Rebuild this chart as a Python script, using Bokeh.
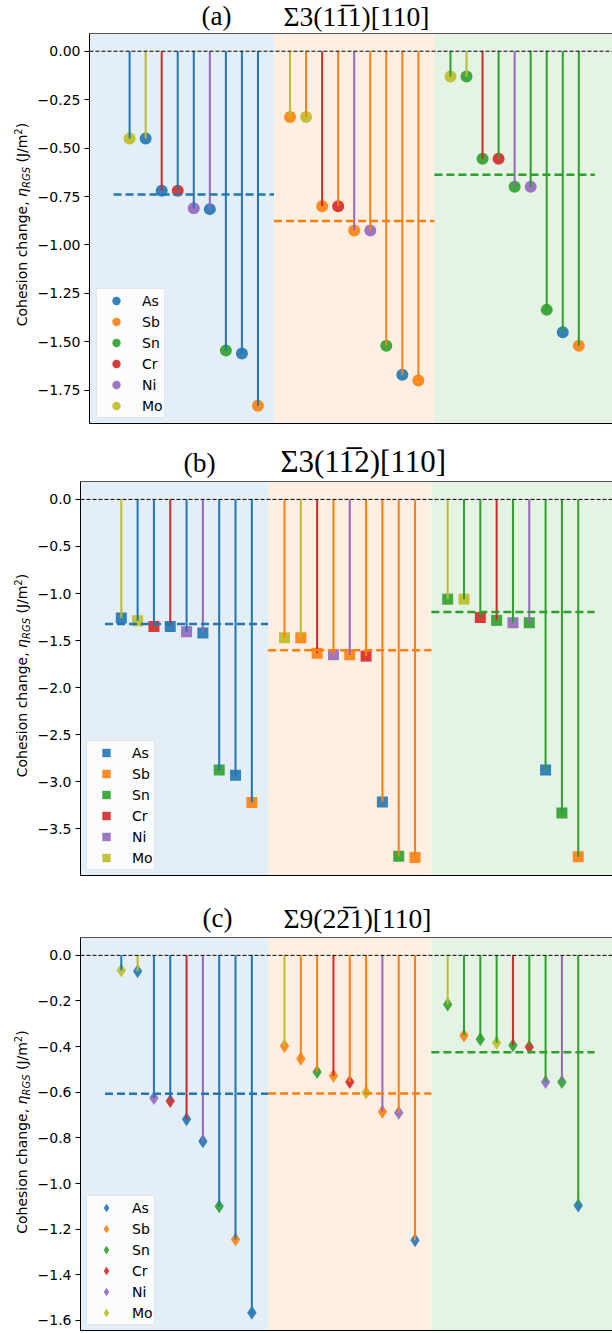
import math
from bokeh.plotting import figure
from bokeh.layouts import column, row
from bokeh.models import (ColumnDataSource, Range1d, FixedTicker, Label,
                          BoxAnnotation, Legend, LegendItem, LinearAxis, Span)
from bokeh.embed import file_html
from bokeh.resources import INLINE

# ---------------- data ----------------
ELEMENTS = ["As", "Sb", "Sn", "Cr", "Ni", "Mo"]
COLORS = {"As": "#1f77b4", "Sb": "#ff7f0e", "Sn": "#2ca02c",
          "Cr": "#d62728", "Ni": "#9467bd", "Mo": "#bcbd22"}
HOSTS = ["As", "Sb", "Sn"]

# Panel (a)  Sigma3(1-11)[110]
A_LINE = ["As", "Mo", "Cr", "As", "As", "Ni", "As", "As", "As",
          "Mo", "Sb", "Cr", "Sb", "Ni", "Sb", "Sb", "Sb", "Sb",
          "Sn", "Mo", "Cr", "Sn", "Ni", "Sn", "Sn", "Sn", "Sn"]
A_MARK = ["Mo", "As", "As", "Cr", "Ni", "As", "Sn", "As", "Sb",
          "Sb", "Mo", "Sb", "Cr", "Sb", "Ni", "Sn", "As", "Sb",
          "Mo", "Sn", "Sn", "Cr", "Sn", "Ni", "Sn", "As", "Sb"]
A_VAL = [-0.45, -0.45, -0.72, -0.72, -0.81, -0.815, -1.545, -1.56, -1.83,
         -0.34, -0.34, -0.80, -0.80, -0.925, -0.925, -1.52, -1.67, -1.70,
         -0.13, -0.13, -0.555, -0.555, -0.70, -0.70, -1.335, -1.45, -1.52]
A_MEAN = [-0.74, -0.876, -0.637]
A_TICKS = [0.0, -0.25, -0.5, -0.75, -1.0, -1.25, -1.5, -1.75]
A_TICK_LABELS = ["0.00", "\u22120.25", "\u22120.50", "\u22120.75", "\u22121.00",
                 "\u22121.25", "\u22121.50", "\u22121.75"]

# Panel (b)  Sigma3(1-12)[110]
B_LINE = ["Mo", "As", "As", "Cr", "As", "Ni", "As", "As", "As",
          "Sb", "Mo", "Cr", "Sb", "Ni", "Sb", "Sb", "Sb", "Sb",
          "Mo", "Sn", "Sn", "Cr", "Sn", "Ni", "Sn", "Sn", "Sn"]
B_MARK = ["As", "Mo", "Cr", "As", "Ni", "As", "Sn", "As", "Sb",
          "Mo", "Sb", "Sb", "Ni", "Sb", "Cr", "As", "Sn", "Sb",
          "Sn", "Mo", "Cr", "Sn", "Ni", "Sn", "As", "Sn", "Sb"]
B_VAL = [-1.26, -1.29, -1.35, -1.35, -1.405, -1.42, -2.875, -2.93, -3.22,
         -1.47, -1.47, -1.635, -1.65, -1.65, -1.665, -3.215, -3.79, -3.805,
         -1.06, -1.06, -1.255, -1.285, -1.31, -1.31, -2.875, -3.33, -3.795]
B_MEAN = [-1.323, -1.602, -1.196]
B_TICKS = [0.0, -0.5, -1.0, -1.5, -2.0, -2.5, -3.0, -3.5, -4.0]
B_TICK_LABELS = ["0.0", "\u22120.5", "\u22121.0", "\u22121.5", "\u22122.0",
                 "\u22122.5", "\u22123.0", "\u22123.5", "\u22124.0"]

# Panel (c)  Sigma9(2-21)[110]
C_LINE = ["As", "Mo", "As", "As", "Cr", "Ni", "As", "As", "As",
          "Mo", "Sb", "Sb", "Cr", "Sb", "Sb", "Ni", "Sb", "Sb",
          "Mo", "Sn", "Sn", "Sn", "Cr", "Sn", "Sn", "Ni", "Sn"]
C_MARK = ["Mo", "As", "Ni", "Cr", "As", "As", "Sn", "Sb", "As",
          "Sb", "Sb", "Sn", "Sb", "Cr", "Mo", "Sb", "Ni", "As",
          "Sn", "Sb", "Sn", "Mo", "Sn", "Cr", "Ni", "Sn", "As"]
C_VAL = [-0.065, -0.07, -0.625, -0.638, -0.718, -0.815, -1.10, -1.245, -1.566,
         -0.397, -0.453, -0.511, -0.528, -0.555, -0.601, -0.686, -0.690, -1.249,
         -0.215, -0.351, -0.368, -0.383, -0.394, -0.402, -0.555, -0.555, -1.096]
C_MEAN = [-0.607, -0.605, -0.425]
C_TICKS = [0.0, -0.2, -0.4, -0.6, -0.8, -1.0, -1.2, -1.4, -1.6]
C_TICK_LABELS = ["0.0", "\u22120.2", "\u22120.4", "\u22120.6", "\u22120.8",
                 "\u22121.0", "\u22121.2", "\u22121.4", "\u22121.6"]

TAGS = ["(a)", "(b)", "(c)"]
FORMULAS = ["\u03a33(11\u03051)[110]", "\u03a33(11\u03052)[110]", "\u03a39(22\u03051)[110]"]

# ---------------- layout / style ----------------
PAGE_W = 612
YLAB_W = 34
SERIF_MID = 0.3375   # (ascent - descent)/2 in em, Liberation Serif
SANS_MID = 0.346     # (ascent - descent)/2 in em, DejaVu Sans

PANELS = [
    dict(line=A_LINE, mark=A_MARK, vals=A_VAL, mean=A_MEAN, ticks=A_TICKS,
         labels=A_TICK_LABELS, tag=TAGS[0], formula=FORMULAS[0], marker="circle",
         msize=12, title_h=32, fh=390, bt=1, bb=4, frame_left=87, leg=(7, 5),
         tag_x=201, form_x=283, tag_size=27, form_size=27.5, base=7),
    dict(line=B_LINE, mark=B_MARK, vals=B_VAL, mean=B_MEAN, ticks=B_TICKS,
         labels=B_TICK_LABELS, tag=TAGS[1], formula=FORMULAS[1], marker="square",
         msize=11, title_h=53, fh=394, bt=1, bb=3, frame_left=79, leg=(6, 5),
         tag_x=183, form_x=280, tag_size=27.5, form_size=31, base=9),
    dict(line=C_LINE, mark=C_MARK, vals=C_VAL, mean=C_MEAN, ticks=C_TICKS,
         labels=C_TICK_LABELS, tag=TAGS[2], formula=FORMULAS[2], marker="diamond",
         msize=14, title_h=58, fh=393, bt=1, bb=2, frame_left=79, leg=(6, 5),
         tag_x=202, form_x=283, tag_size=27, form_size=27.5, base=9),
]

X_START, X_END = -2.5, 30.1


def blank_fig(w, h):
    f = figure(width=w, height=h, x_range=Range1d(0, w), y_range=Range1d(0, h),
               output_backend="svg", toolbar_location=None, tools="",
               min_border=0, x_axis_location=None, y_axis_location=None)
    f.outline_line_color = None
    f.grid.visible = False
    f.xgrid.visible = False
    f.ygrid.visible = False
    f.background_fill_color = "white"
    f.border_fill_color = "white"
    return f


def make_title(cfg):
    f = blank_fig(PAGE_W, cfg["title_h"])
    for text, x, size in ((cfg["tag"], cfg["tag_x"], cfg["tag_size"]),
                          (cfg["formula"], cfg["form_x"], cfg["form_size"])):
        f.add_layout(Label(x=x, y=cfg["base"] + SERIF_MID * size,
                           x_units="screen", y_units="screen",
                           text=text, text_font="Liberation Serif",
                           text_font_size=f"{size}px", text_color="black",
                           text_baseline="middle", text_align="left"))
    return f


def make_ylabel(cfg):
    h = cfg["bt"] + cfg["fh"] + cfg["bb"]
    f = blank_fig(YLAB_W, h)
    bx = 26  # baseline of the main text
    pieces = [  # text, size px, style, baseline shift, advance
        ("Cohesion change,", 14, "normal", 0, 129.3),
        ("\u03b7", 14, "italic", 0, 8.9),
        ("RGS", 10, "italic", 3, 25.5),
        ("(J/m", 14, "normal", 0, 27.9),
        ("2", 10, "normal", -5.5, 6.4),
        (")", 14, "normal", 0, 5.5),
    ]
    total = sum(pc[4] for pc in pieces)
    y = cfg["bb"] + cfg["fh"] / 2 - total / 2
    for text, size, style, dx, adv in pieces:
        f.add_layout(Label(x=bx + dx - SANS_MID * size, y=y,
                           x_units="screen", y_units="screen",
                           text=text, angle=math.pi / 2, text_font="DejaVu Sans",
                           text_font_size=f"{size}px", text_font_style=style,
                           text_color="black", text_baseline="middle",
                           text_align="left"))
        y += adv
    return f


def make_panel(cfg):
    ng = len(HOSTS)
    xs = [g * 10 + i for g in range(ng) for i in range(9)]
    vals = cfg["vals"]
    lo = min(vals)
    pad = -lo * 0.05
    h = cfg["bt"] + cfg["fh"] + cfg["bb"]

    p = figure(width=PAGE_W - YLAB_W, height=h, x_range=Range1d(X_START, X_END),
               y_range=Range1d(lo - pad, pad), output_backend="svg",
               toolbar_location=None, tools="",
               min_border_left=cfg["frame_left"] - YLAB_W, min_border_right=0,
               min_border_top=cfg["bt"], min_border_bottom=cfg["bb"])
    p.outline_line_color = None
    p.grid.visible = False
    p.background_fill_color = "white"
    p.border_fill_color = "white"

    # host background bands
    for g, host in enumerate(HOSTS):
        left = X_START if g == 0 else g * 10 - 1
        right = X_END if g == ng - 1 else g * 10 + 9
        p.add_layout(BoxAnnotation(left=left, right=right, fill_color=COLORS[host],
                                   fill_alpha=0.12, line_color=None, level="underlay"))

    # markers (one renderer per solute element)
    rends = {}
    for e in ELEMENTS:
        idx = [k for k, m in enumerate(cfg["mark"]) if m == e]
        src = ColumnDataSource(dict(x=[xs[k] for k in idx], y=[vals[k] for k in idx]))
        rends[e] = p.scatter("x", "y", source=src, marker=cfg["marker"], size=cfg["msize"],
                             fill_color=COLORS[e], fill_alpha=0.9, line_color=None)

    # stems
    stem = ColumnDataSource(dict(x=xs, y0=[0.0] * len(xs), y1=vals,
                                 c=[COLORS[e] for e in cfg["line"]]))
    p.segment(x0="x", y0="y0", x1="x", y1="y1", line_color="c", line_width=2, source=stem)

    # group means
    msrc = ColumnDataSource(dict(x0=[g * 10 - 1 for g in range(ng)],
                                 x1=[g * 10 + 9 for g in range(ng)],
                                 y=cfg["mean"], c=[COLORS[hh] for hh in HOSTS]))
    p.segment(x0="x0", y0="y", x1="x1", y1="y", line_color="c", line_width=2.5,
              line_dash="8 4", source=msrc)

    p.add_layout(Span(location=0, dimension="width", line_color="black",
                      line_width=1, line_dash="4 2"))

    # axes
    ya = p.yaxis[0]
    ya.ticker = FixedTicker(ticks=cfg["ticks"])
    ya.major_label_overrides = {t: l for t, l in zip(cfg["ticks"], cfg["labels"])}
    ya.major_label_text_font = "DejaVu Sans"
    ya.major_label_text_font_size = "14px"
    ya.major_label_text_color = "black"
    ya.major_tick_in = 0
    ya.major_tick_out = 5
    ya.major_tick_line_color = "black"
    ya.minor_tick_line_color = None
    ya.axis_line_color = "black"
    ya.major_label_standoff = 4

    xa = p.xaxis[0]
    xa.ticker = FixedTicker(ticks=[])
    xa.major_tick_line_color = None
    xa.minor_tick_line_color = None
    xa.major_label_standoff = 0
    xa.major_tick_out = 0
    xa.major_tick_in = 0
    xa.axis_line_color = "black"

    top = LinearAxis(ticker=FixedTicker(ticks=[]), axis_line_color="#555555",
                     major_tick_line_color=None, minor_tick_line_color=None,
                     major_label_standoff=0, major_tick_out=0, major_tick_in=0)
    p.add_layout(top, "above")

    # legend
    legend = Legend(items=[LegendItem(label=e, renderers=[rends[e]]) for e in ELEMENTS],
                    location=cfg["leg"], orientation="vertical",
                    label_text_font="DejaVu Sans", label_text_font_size="14px",
                    label_text_color="black",
                    glyph_width=36, glyph_height=21, label_height=21, spacing=0,
                    padding=1, label_standoff=8, margin=0,
                    border_line_color="#cccccc", border_line_width=1,
                    background_fill_color="white", background_fill_alpha=0.8)
    p.add_layout(legend)
    return p


blocks = []
for cfg in PANELS:
    blocks.append(make_title(cfg))
    blocks.append(row(make_ylabel(cfg), make_panel(cfg), spacing=0))

layout = column(*blocks, spacing=0)
open("out.html", "w").write(file_html(layout, INLINE))
